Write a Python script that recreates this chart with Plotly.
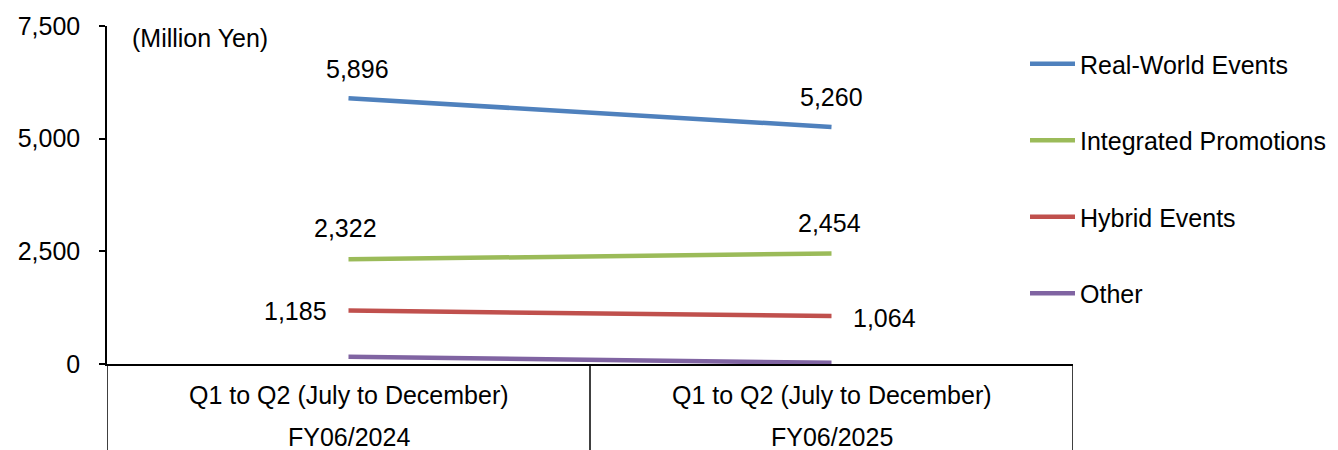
import plotly.graph_objects as go

categories = ["Q1 to Q2 (July to December)", "Q1 to Q2 (July to December)"]
fiscal_years = ["FY06/2024", "FY06/2025"]
series_names = ["Real-World Events", "Integrated Promotions", "Hybrid Events", "Other"]
real_world = [5896, 5260]
integrated = [2322, 2454]
hybrid = [1185, 1064]
other = [160, 25]
colors = ["#4F81BD", "#9BBB59", "#C0504D", "#8064A2"]
y_ticks = [0, 2500, 5000, 7500]

FONT = "Liberation Sans, Arial, sans-serif"
FS = 25
x_pos = [0.5, 1.5]

fig = go.Figure()
all_series = [real_world, integrated, hybrid, other]
for i, (name, vals) in enumerate(zip(series_names, all_series)):
    fig.add_trace(go.Scatter(
        x=x_pos, y=vals, mode="lines", name=name,
        line=dict(color=colors[i], width=4.5),
        legendgroup=f"g{i}", hoverinfo="skip"))

annotations = []
label_cfg = {
    0: [dict(xshift=9, yshift=29, xanchor="center"), dict(xshift=0, yshift=30, xanchor="center")],
    1: [dict(xshift=-3, yshift=31, xanchor="center"), dict(xshift=-2, yshift=30, xanchor="center")],
    2: [dict(xshift=-20, yshift=0, xanchor="right"), dict(xshift=19, yshift=-2, xanchor="left")],
}
for si, cfgs in label_cfg.items():
    for pi, cfg in enumerate(cfgs):
        v = all_series[si][pi]
        annotations.append(dict(x=x_pos[pi], y=v, xref="x", yref="y", text=f"{v:,}",
                                showarrow=False, yanchor="middle",
                                font=dict(family=FONT, size=FS, color="#000"), **cfg))

annotations.append(dict(x=23/966, y=(364-38)/338, xref="paper", yref="paper", text="(Million Yen)",
                        showarrow=False, xanchor="left", yanchor="middle",
                        font=dict(family=FONT, size=FS, color="#000")))
for pi in range(2):
    annotations.append(dict(x=x_pos[pi], y=(364-395)/338, xref="x", yref="paper", text=categories[pi],
                            showarrow=False, xanchor="center", yanchor="middle",
                            font=dict(family=FONT, size=FS, color="#000")))
    annotations.append(dict(x=x_pos[pi], y=(364-437)/338, xref="x", yref="paper", text=fiscal_years[pi],
                            showarrow=False, xanchor="center", yanchor="middle",
                            font=dict(family=FONT, size=FS, color="#000")))

shapes = []
for xv in [0, 1, 2]:
    shapes.append(dict(type="line", xref="x", yref="paper", x0=xv, x1=xv, y0=0, y1=-0.3,
                       line=dict(color="#000", width=1.5)))

fig.update_layout(
    width=1338, height=450,
    margin=dict(l=107, r=265, t=26, b=86, autoexpand=False),
    paper_bgcolor="white", plot_bgcolor="white",
    font=dict(family=FONT, size=FS, color="#000"),
    xaxis=dict(range=[0, 2], showgrid=False, zeroline=False, showticklabels=False,
               showline=True, linecolor="#000", linewidth=1.5, ticks="", fixedrange=True),
    yaxis=dict(range=[0, 7500], tickvals=y_ticks, ticktext=[f"{t:,}" for t in y_ticks],
               showgrid=False, zeroline=False, showline=True, linecolor="#000", linewidth=1.5,
               ticks="outside", ticklen=6, tickcolor="#000", tickwidth=1.5,
               ticklabelstandoff=14, tickfont=dict(family=FONT, size=FS, color="#000")),
    legend=dict(x=(1030 - 5) / 1338, xref="container", y=1 - 41/450, yref="container",
                xanchor="left", yanchor="top", tracegroupgap=41, traceorder="grouped",
                itemwidth=45, maxheight=440, font=dict(family=FONT, size=FS, color="#000"),
                bgcolor="rgba(0,0,0,0)"),
    annotations=annotations, shapes=shapes, showlegend=True,
)
fig.write_html("out.html")
